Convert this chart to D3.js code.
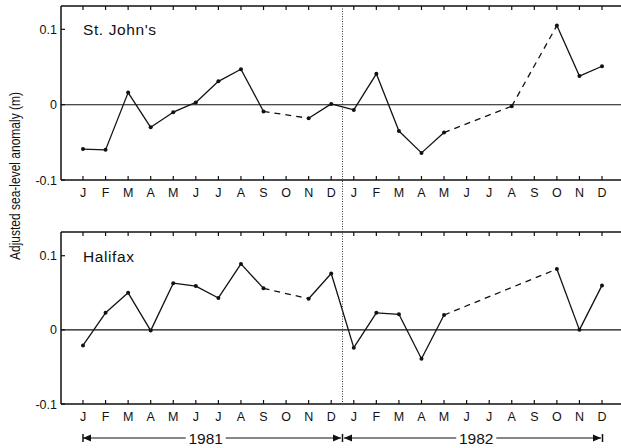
<!DOCTYPE html>
<html><head><meta charset="utf-8">
<script src="https://cdn.jsdelivr.net/npm/d3@7"></script>
<style>html,body{margin:0;padding:0;background:#fff;}svg{display:block;font-family:"Liberation Sans",Arial,sans-serif;}</style>
</head><body><svg id="c" width="621" height="448"></svg>
<script>
const months = ["J","F","M","A","M","J","J","A","S","O","N","D","J","F","M","A","M","J","J","A","S","O","N","D"];
const years = ["1981","1982"];
const stJohns = [-0.059,-0.060,0.016,-0.030,-0.010,0.003,0.031,0.047,-0.009,null,-0.018,0.001,
                 -0.007,0.041,-0.035,-0.064,-0.037,null,null,-0.002,null,0.105,0.038,0.051];
const halifax = [-0.021,0.023,0.050,-0.001,0.063,0.059,0.043,0.089,0.056,null,0.042,0.076,
                 -0.024,0.023,0.021,-0.039,0.020,null,null,null,null,0.082,0.000,0.060];
const yTicks = [0.1, 0, -0.1];
const yTickLabels = ["0.1","0","-0.1"];
const panelNames = ["St. John's","Halifax"];

const svg = d3.select("#c");
const x = d3.scaleLinear().domain([0, 23]).range([83, 602]);
const xLeft = 61, xRight = 621;

const panels = [
  {name: panelNames[0], data: stJohns, y: d3.scaleLinear().domain([-0.1, 0.131]).range([180, 6]), monthY: 197},
  {name: panelNames[1], data: halifax, y: d3.scaleLinear().domain([-0.1, 0.132]).range([404, 232]), monthY: 421}
];

panels.forEach(p => {
  const g = svg.append("g");
  const y = p.y;
  const [y0, y1] = y.range();
  g.append("line").attr("x1", xLeft).attr("x2", xRight).attr("y1", y1).attr("y2", y1).attr("stroke", "#111").attr("stroke-width", 1.5);
  g.append("line").attr("x1", xLeft).attr("x2", xRight).attr("y1", y0).attr("y2", y0).attr("stroke", "#111").attr("stroke-width", 1.5);
  g.append("line").attr("x1", xLeft).attr("x2", xLeft).attr("y1", y1).attr("y2", y0).attr("stroke", "#111").attr("stroke-width", 1.5);
  g.append("line").attr("x1", xLeft).attr("x2", xRight).attr("y1", y(0)).attr("y2", y(0)).attr("stroke", "#111").attr("stroke-width", 1.1);
  months.forEach((m, i) => {
    g.append("line").attr("x1", x(i)).attr("x2", x(i)).attr("y1", y1).attr("y2", y1 + 4).attr("stroke", "#111").attr("stroke-width", 1.2);
    g.append("line").attr("x1", x(i)).attr("x2", x(i)).attr("y1", y0).attr("y2", y0 - 4).attr("stroke", "#111").attr("stroke-width", 1.2);
    g.append("text").attr("x", x(i)).attr("y", p.monthY).attr("text-anchor", "middle")
      .attr("font-size", 12.5).attr("fill", "#111").text(m);
  });
  yTicks.forEach((v, k) => {
    g.append("line").attr("x1", xLeft).attr("x2", xLeft + 4).attr("y1", y(v)).attr("y2", y(v)).attr("stroke", "#111").attr("stroke-width", 1.2);
    g.append("text").attr("x", xLeft - 4).attr("y", y(v) + 4.5).attr("text-anchor", "end")
      .attr("font-size", 12.5).attr("fill", "#111").text(yTickLabels[k]);
  });
  g.append("text").attr("x", 83).attr("y", y(0.1) + 6).attr("font-size", 15.5).attr("letter-spacing", 0.6).attr("fill", "#111").text(p.name);
  const pts = p.data.map((v, i) => ({i, v})).filter(d => d.v !== null);
  for (let k = 0; k < pts.length - 1; k++) {
    const a = pts[k], b = pts[k + 1];
    const gap = b.i - a.i > 1;
    g.append("line").attr("x1", x(a.i)).attr("y1", y(a.v)).attr("x2", x(b.i)).attr("y2", y(b.v))
      .attr("stroke", "#111").attr("stroke-width", 1.3)
      .attr("stroke-dasharray", gap ? "6,5" : null);
  }
  g.selectAll("circle").data(pts).enter().append("circle")
    .attr("cx", d => x(d.i)).attr("cy", d => y(d.v)).attr("r", 2).attr("fill", "#111");
});

svg.append("line").attr("x1", x(11.5)).attr("x2", x(11.5)).attr("y1", 6).attr("y2", 404)
  .attr("stroke", "#333").attr("stroke-width", 1).attr("stroke-dasharray", "1,1.5");

svg.append("text").attr("transform", "translate(20,176) rotate(-90)").attr("text-anchor", "middle")
  .attr("font-size", 14).attr("textLength", 168).attr("lengthAdjust", "spacingAndGlyphs")
  .attr("fill", "#111").text("Adjusted sea-level anomaly (m)");

const ay = 438;
function arrowHead(tipX, dir) {
  svg.append("path").attr("d", `M${tipX},${ay} L${tipX - dir * 8},${ay - 3.5} L${tipX - dir * 8},${ay + 3.5} Z`).attr("fill", "#111");
}
function bar(bx) {
  svg.append("line").attr("x1", bx).attr("x2", bx).attr("y1", ay - 4).attr("y2", ay + 4).attr("stroke", "#111").attr("stroke-width", 1.5);
}
const spans = [{y: years[0], a: 0, b: 11.5, off: -7}, {y: years[1], a: 11.5, b: 23, off: 4}];
spans.forEach((s, k) => {
  const xa = (k === 0 ? x(s.a) : x(s.a) + 1.5), xb = (k === 1 ? x(s.b) - 1 : x(s.b) - 1.5);
  const cx = (x(s.a) + x(s.b)) / 2 + s.off;
  const half = 20;
  svg.append("line").attr("x1", xa).attr("x2", cx - half).attr("y1", ay).attr("y2", ay).attr("stroke", "#111").attr("stroke-width", 1.2);
  svg.append("line").attr("x1", cx + half).attr("x2", xb).attr("y1", ay).attr("y2", ay).attr("stroke", "#111").attr("stroke-width", 1.2);
  arrowHead(xa, -1);
  arrowHead(xb, 1);
  svg.append("text").attr("x", cx).attr("y", ay + 5.5).attr("text-anchor", "middle").attr("font-size", 15.5).attr("fill", "#111").text(s.y);
});
bar(x(0)); bar(x(11.5)); bar(x(23) + 0.5);
</script></body></html>
